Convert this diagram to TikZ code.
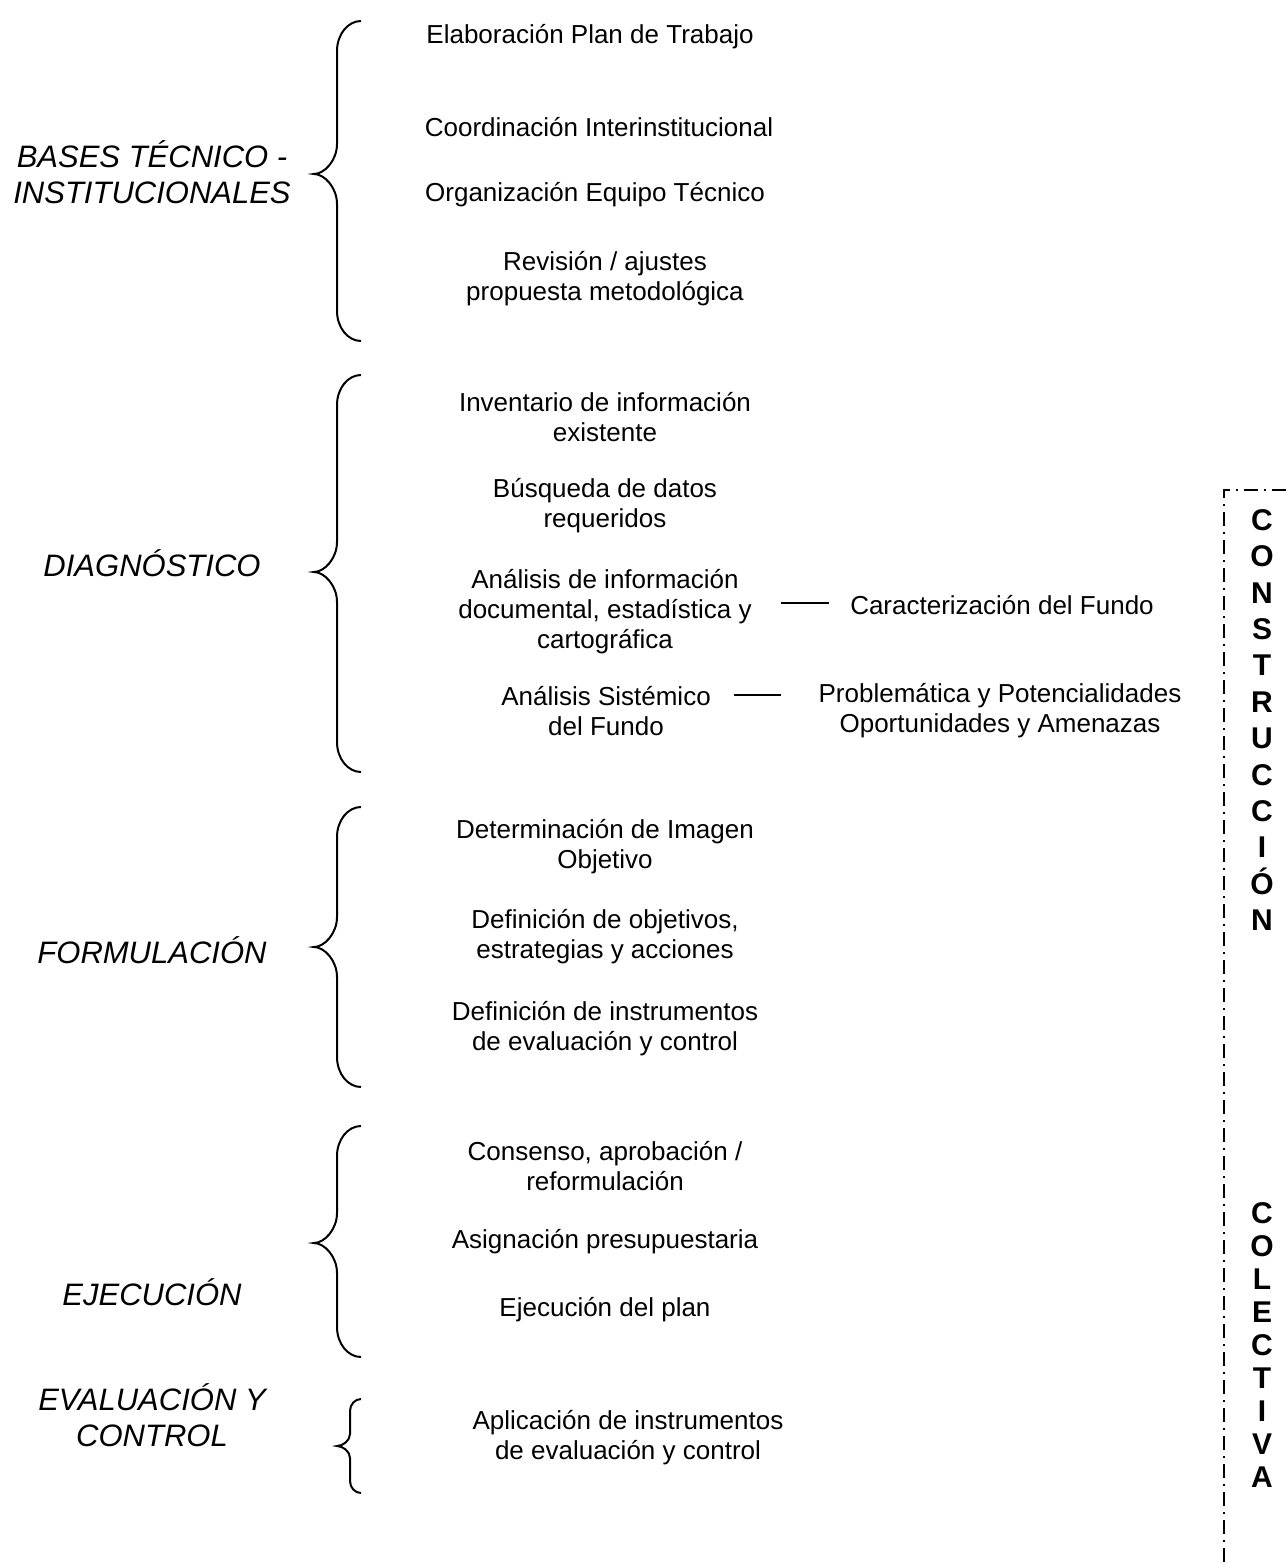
\documentclass[tikz,border=0pt]{standalone}
\usepackage{fontspec}
\setmainfont{Liberation Sans}
\newcommand{\bracepath}[7]{%
  \draw[bracestyle] (#1,#4) .. controls ({#2+0.45*(#1-#2)},#4) and (#2,{#4+0.45*#7}) .. (#2,{#4+#7})
    -- (#2,{#5-#7}) .. controls (#2,{#5-0.45*#7}) and ({#3+0.45*(#2-#3)},#5) .. (#3,#5)
    .. controls ({#3+0.45*(#2-#3)},#5) and (#2,{#5+0.45*#7}) .. (#2,{#5+#7})
    -- (#2,{#6-#7}) .. controls (#2,{#6-0.45*#7}) and ({#2+0.45*(#1-#2)},#6) .. (#1,#6);}
\begin{document}
\begin{tikzpicture}[x=1pt,y=-1pt,
  txt/.style={font=\fontsize{26}{30}\selectfont, align=center, inner sep=0pt},
  lab/.style={font=\fontsize{31}{36}\selectfont\itshape, align=center, inner sep=0pt},
  vertA/.style={font=\fontsize{30}{36.4}\selectfont\bfseries, align=center, inner sep=0pt},
  vertB/.style={font=\fontsize{30}{33}\selectfont\bfseries, align=center, inner sep=0pt},
  bracestyle/.style={line width=2pt},
  link/.style={line width=2pt},
  dashline/.style={line width=2pt, dash pattern=on 14pt off 6pt on 2pt off 6pt}]
\useasboundingbox[fill=white] (0,0) rectangle (1286,1562);

% left labels
\node[lab] (bases) at (152,172) {BASES TÉCNICO -\\INSTITUCIONALES};
\node[lab] (diag) at (152,563) {DIAGNÓSTICO};
\node[lab] (form) at (152,950) {FORMULACIÓN};
\node[lab] (ejec) at (152,1292) {EJECUCIÓN};
\node[lab] (evac) at (152,1415) {EVALUACIÓN Y\\CONTROL};

% braces
\bracepath{361}{337}{314}{21}{174}{341}{30}
\bracepath{361}{337}{314}{375}{572}{772}{30}
\bracepath{361}{337}{314}{807}{947}{1087}{30}
\bracepath{361}{337}{314}{1126}{1243}{1357}{30}
\bracepath{361}{350}{337}{1399}{1446}{1493}{12}

% items
\node[txt] (t1) at (590,37) {Elaboración Plan de Trabajo};
\node[txt] (t2) at (599,127) {Coordinación Interinstitucional};
\node[txt] (t3) at (595,195) {Organización Equipo Técnico};
\node[txt] (t4) at (605,279) {Revisión / ajustes\\propuesta metodológica};
\node[txt] (d1) at (605,417) {Inventario de información\\existente};
\node[txt] (d2) at (605,506) {Búsqueda de datos\\requeridos};
\node[txt] (d3) at (605,612) {Análisis de información\\documental, estadística y\\cartográfica};
\node[txt] (d4) at (606,711) {Análisis Sistémico\\del Fundo};
\node[txt] (r1) at (1002,605) {Caracterización del Fundo};
\node[txt] (r2) at (1000,711) {Problemática y Potencialidades\\Oportunidades y Amenazas};
\node[txt] (f1) at (605,847) {Determinación de Imagen\\Objetivo};
\node[txt] (f2) at (605,937) {Definición de objetivos,\\estrategias y acciones};
\node[txt] (f3) at (605,1029) {Definición de instrumentos\\de evaluación y control};
\node[txt] (e1) at (605,1166) {Consenso, aprobación /\\reformulación};
\node[txt] (e2) at (605,1242) {Asignación presupuestaria};
\node[txt] (e3) at (605,1310) {Ejecución del plan};
\node[txt] (v1) at (628,1438) {Aplicación de instrumentos\\de evaluación y control};

% connectors
\coordinate (c1a) at (781,603);
\coordinate (c1b) at (829,603);
\coordinate (c2a) at (734,695);
\coordinate (c2b) at (781,695);
\draw[link] (c1a) -- (c1b);
\draw[link] (c2a) -- (c2b);

% dash-dot frame
\coordinate (fr1) at (1286,490);
\coordinate (fr2) at (1224,490);
\coordinate (fr3) at (1224,1562);
\draw[dashline] (fr1) -- (fr2) -- (fr3);

% vertical words
\node[vertA] (w1) at (1262,720) {C\\O\\N\\S\\T\\R\\U\\C\\C\\I\\Ó\\N};
\node[vertB] (w2) at (1262,1345) {C\\O\\L\\E\\C\\T\\I\\V\\A};
\end{tikzpicture}
\end{document}
